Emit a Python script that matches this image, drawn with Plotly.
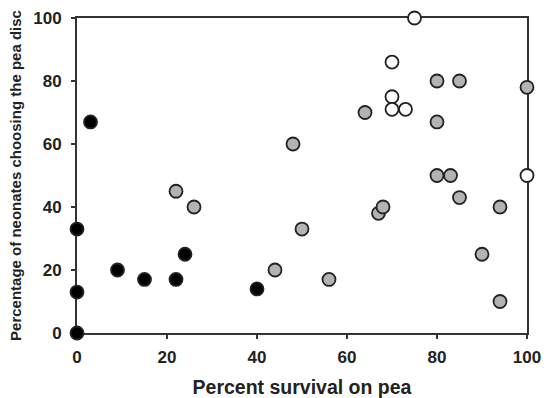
import plotly.graph_objects as go

# Data
black_x = [0, 0, 0, 3, 9, 15, 22, 24, 40]
black_y = [0, 13, 33, 67, 20, 17, 17, 25, 14]

grey_x = [22, 26, 44, 48, 50, 56, 64, 67, 68, 80, 85, 80, 80, 83, 85, 90, 94, 94, 100]
grey_y = [45, 40, 20, 60, 33, 17, 70, 38, 40, 80, 80, 67, 50, 50, 43, 25, 40, 10, 78]

white_x = [75, 70, 70, 70, 73, 100]
white_y = [100, 86, 75, 71, 71, 50]

x_ticks = [0, 20, 40, 60, 80, 100]
y_ticks = [0, 20, 40, 60, 80, 100]

FONT = "Liberation Sans, Arial, sans-serif"
EDGE = "#222222"
TXT = "#222222"

fig = go.Figure()

def add(xs, ys, fill):
    fig.add_trace(go.Scatter(
        x=xs, y=ys, mode="markers", cliponaxis=False, showlegend=False,
        marker=dict(size=13, color=fill, line=dict(color=EDGE, width=1.8)),
    ))

add(grey_x, grey_y, "#b3b3b3")
add(white_x, white_y, "#ffffff")
add(black_x, black_y, "#000000")

axis_common = dict(
    showgrid=False, zeroline=False, showline=True, mirror=True,
    linecolor="#333333", linewidth=2, ticks="outside", ticklen=4,
    tickcolor="#333333", tickwidth=1.5, layer="below traces", automargin=False,
    tickfont=dict(family=FONT, size=17, color=TXT),
)

fig.update_layout(
    width=544, height=398,
    margin=dict(l=77, r=17, t=18, b=65),
    paper_bgcolor="white", plot_bgcolor="white",
    xaxis=dict(range=[0, 100], tickvals=x_ticks,
               ticktext=[f"<b>{v}</b>" for v in x_ticks], **axis_common,
               ticklabelstandoff=4,
               title=dict(text="<b>Percent survival on pea</b>", standoff=20,
                          font=dict(family=FONT, size=19.5, color=TXT))),
    yaxis=dict(range=[0, 100], tickvals=y_ticks,
               ticktext=[f"<b>{v}</b>" for v in y_ticks], **axis_common,
               ticklabelstandoff=6,
               title=dict(text="<b>Percentage of neonates choosing the pea disc</b>", standoff=8,
                          font=dict(family=FONT, size=15, color=TXT))),
)

fig.write_html("out.html")
